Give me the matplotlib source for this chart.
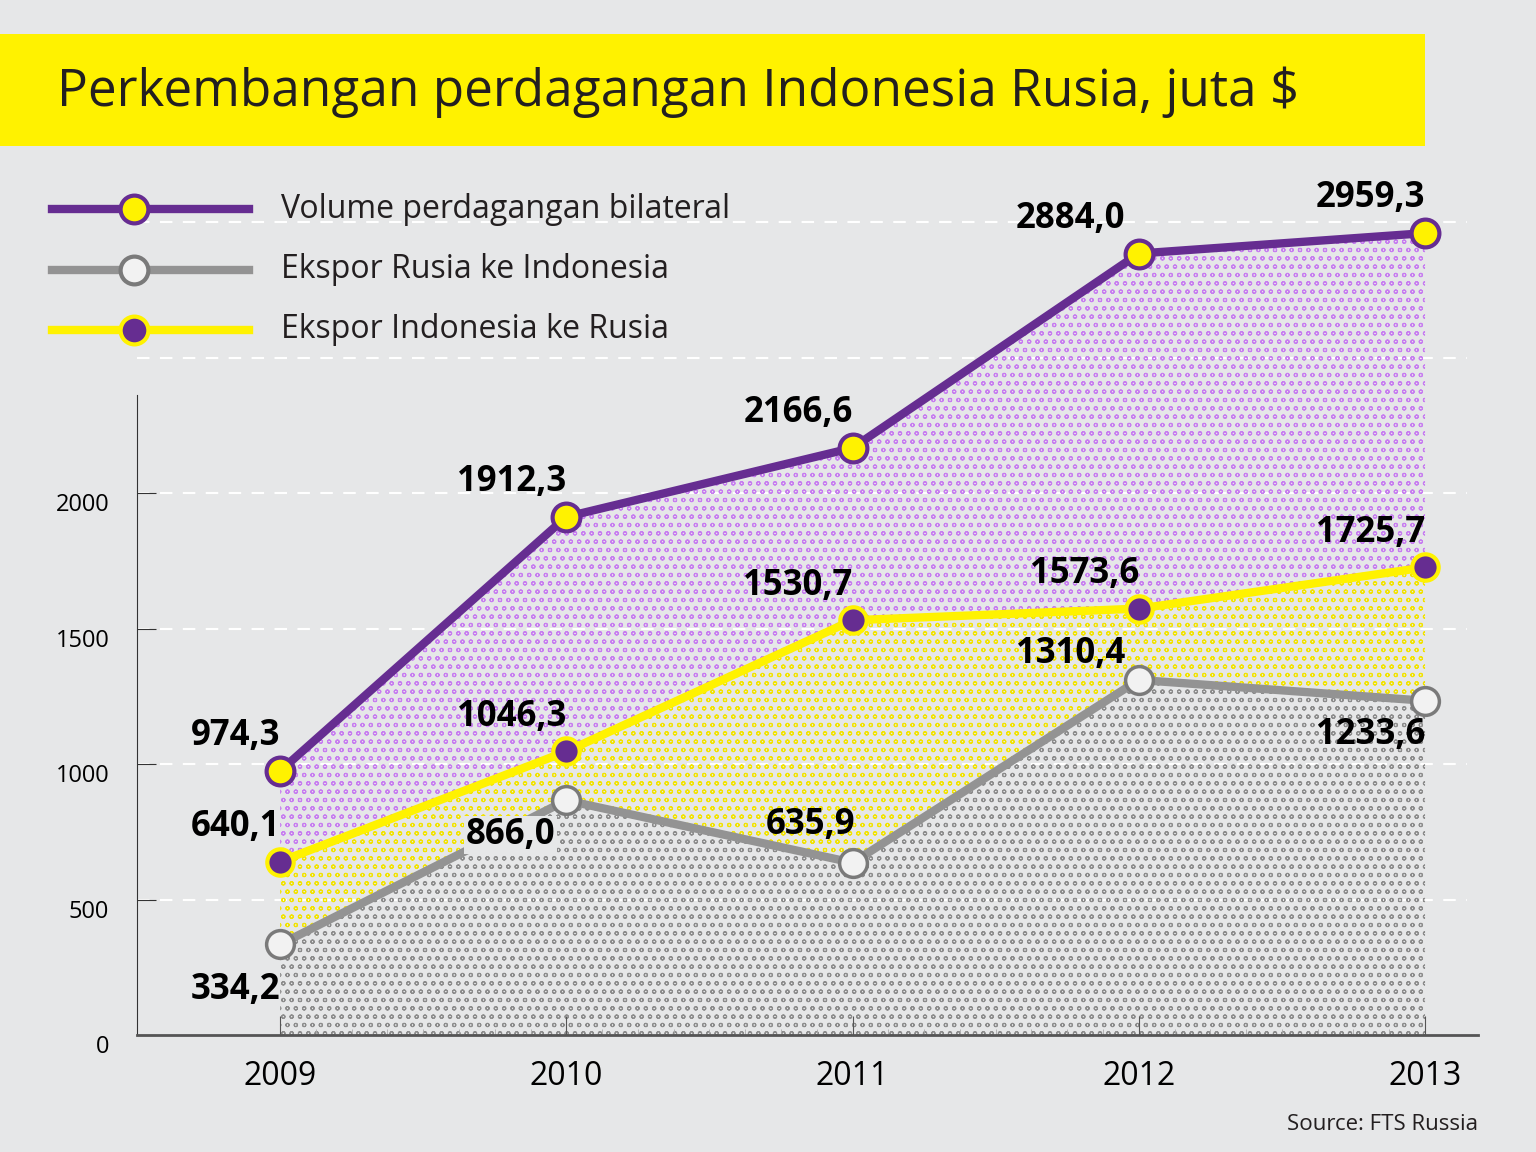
import matplotlib
matplotlib.use("Agg")
import matplotlib.pyplot as plt
from matplotlib.lines import Line2D

plt.rcParams["font.family"] = "Open Sans"
plt.rcParams["hatch.linewidth"] = 0.8

YEARS = [2009, 2010, 2011, 2012, 2013]
VOLUME = [974.3, 1912.3, 2166.6, 2884.0, 2959.3]
EKSPOR_RUSIA = [334.2, 866.0, 635.9, 1310.4, 1233.6]
EKSPOR_INDONESIA = [640.1, 1046.3, 1530.7, 1573.6, 1725.7]
Y_TICKS = [0, 500, 1000, 1500, 2000]

BG = "#e6e7e8"
PURPLE = "#662d91"
GRAY = "#939393"
YELLOW = "#fff200"


def fmt(v):
    return f"{v:.1f}".replace(".", ",")


fig = plt.figure(figsize=(15.36, 11.52), dpi=100, facecolor=BG)
W, H = 1536, 1152
ax = fig.add_axes([137 / W, 1 - 1035 / H, (1478 - 137) / W, (1035 - 195) / H])
ax.set_facecolor("none")
ax.set_xlim(2008.5, 2013.185)
ax.set_ylim(0, 3100)

for g in [500, 1000, 1500, 2000, 2500, 3000]:
    ax.plot([2008.5, 2013.145], [g, g], color="white", lw=1.5, ls=(0, (6, 5)), zorder=0)

ax.fill_between(YEARS, 0, EKSPOR_RUSIA, facecolor="none", edgecolor="#8c8c8c",
                hatch="oo", lw=0, zorder=1)
ax.fill_between(YEARS, EKSPOR_RUSIA, EKSPOR_INDONESIA, facecolor="none", edgecolor="#f2e300",
                hatch="oo", lw=0, zorder=1)
ax.fill_between(YEARS, EKSPOR_INDONESIA, VOLUME, facecolor="none", edgecolor="#c77df0",
                hatch="oo", lw=0, zorder=1)

ax.plot(YEARS, EKSPOR_RUSIA, color=GRAY, lw=6, zorder=3, marker="o", ms=20,
        mfc="#f2f2f2", mec="#7a7a7a", mew=2.5)
ax.plot(YEARS, EKSPOR_INDONESIA, color=YELLOW, lw=6, zorder=3, marker="o", ms=19,
        mfc=PURPLE, mec=YELLOW, mew=3)
ax.plot(YEARS, VOLUME, color=PURPLE, lw=6, zorder=3, marker="o", ms=20,
        mfc=YELLOW, mec=PURPLE, mew=3)

lab = dict(fontsize=25, fontweight="bold", color="black", zorder=5)
for x, v in zip(YEARS, VOLUME):
    dx = -10 if x == 2012 else 0
    ax.annotate(fmt(v), (x, v), xytext=(dx, 12), textcoords="offset points",
                ha="right", va="bottom", **lab)
for x, v in zip(YEARS, EKSPOR_INDONESIA):
    ax.annotate(fmt(v), (x, v), xytext=(0, 12), textcoords="offset points",
                ha="right", va="bottom", **lab)
rus_off = {2009: (0, -20, "right", "top"), 2010: (-8, -12, "right", "top"),
           2011: (2, 14, "right", "bottom"), 2012: (-10, 6, "right", "bottom"),
           2013: (0, -12, "right", "top")}
for x, v in zip(YEARS, EKSPOR_RUSIA):
    dx, dy, ha, va = rus_off[x]
    t = ax.annotate(fmt(v), (x, v), xytext=(dx, dy), textcoords="offset points",
                    ha=ha, va=va, **lab)
    if x == 2010:
        t.set_bbox(dict(facecolor=BG, edgecolor="none", pad=1))

for s in ["top", "right"]:
    ax.spines[s].set_visible(False)
ax.spines["left"].set_bounds(0, 2362)
ax.spines["left"].set_color("#333333")
ax.spines["bottom"].set_color("#555555")
ax.spines["bottom"].set_linewidth(2)
ax.set_yticks(Y_TICKS)
ax.set_yticklabels([str(t) for t in Y_TICKS], fontsize=17, va="top")
ax.tick_params(axis="y", direction="in", length=14, pad=20, color="#333333")
ax.set_xticks(YEARS)
ax.set_xticklabels([str(y) for y in YEARS], fontsize=23)
ax.tick_params(axis="x", direction="in", length=14, pad=18, color="#555555")
ax.set_xticks([2009 + i * 0.125 for i in range(33)], minor=True)
ax.tick_params(axis="x", which="minor", direction="in", length=4, color="#aaaaaa")

# title band
fig.patches.append(plt.Rectangle((0, 1 - 146 / H), 1425 / W, 112 / H,
                                 transform=fig.transFigure, facecolor=YELLOW, edgecolor="none"))
fig.text(57 / W, 1 - 92 / H, "Perkembangan perdagangan Indonesia Rusia, juta $",
         fontsize=37, color="#231f20", va="center")

# legend
legend_items = [
    ("Volume perdagangan bilateral", PURPLE, YELLOW, PURPLE, 209),
    ("Ekspor Rusia ke Indonesia", GRAY, "#f2f2f2", "#7a7a7a", 270),
    ("Ekspor Indonesia ke Rusia", YELLOW, PURPLE, YELLOW, 330),
]
for label, lc, mfc, mec, y in legend_items:
    yf = 1 - y / H
    fig.add_artist(Line2D([52 / W, 249 / W], [yf, yf], color=lc, lw=6,
                          transform=fig.transFigure))
    fig.add_artist(Line2D([134 / W], [yf], marker="o", ms=20, mfc=mfc, mec=mec, mew=3,
                          transform=fig.transFigure))
    fig.text(281 / W, yf, label, fontsize=23, color="#231f20", va="center")

fig.text(1478 / W, 1 - 1125 / H, "Source: FTS Russia", fontsize=16, color="#231f20",
         ha="right", va="center")

fig.savefig("out.png", dpi=100, facecolor=BG)
